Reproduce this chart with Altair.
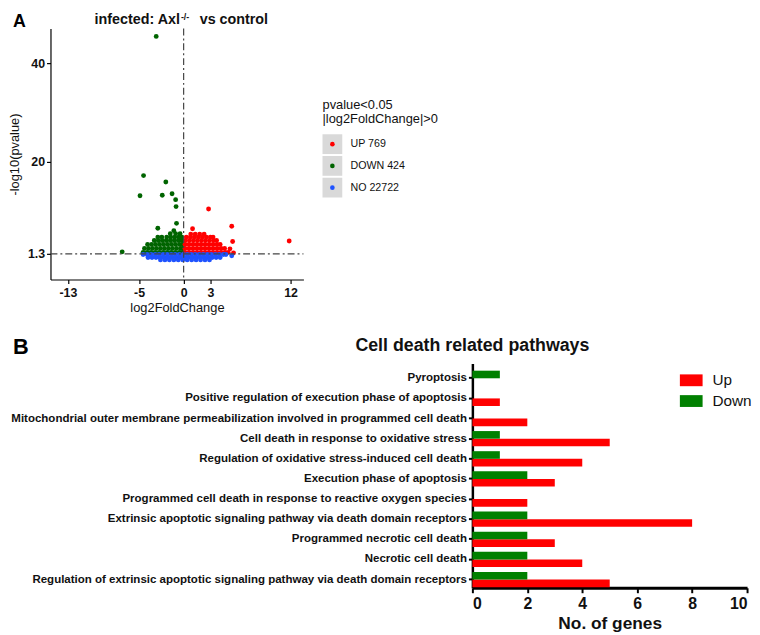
import altair as alt
import pandas as pd

# ---------------- Panel A: volcano plot data ----------------
groups = ["UP", "DOWN", "NO"]
group_colors = ["#ff0000", "#006400", "#1f53ff"]
legend_labels = ["UP 769", "DOWN 424", "NO 22722"]
legend_title = ["pvalue<0.05", "|log2FoldChange|>0"]
x_ticks = [-13, -5, 0, 3, 12]
y_ticks = [1.3, 20, 40]
x_domain = [-14.95, 13.45]
y_domain = [-3.93, 47.1]
fc_cut = [0]
p_cut = [1.3]
title_a = ["infected: Axl", "-/-", "vs control"]

down_x = [
    -4.55, -4.1, -3.65, -3.2, -2.75, -2.3, -1.85, -1.4, -0.95, -0.5, -0.15,
    -4.4, -3.95, -3.5, -3.05, -2.6, -2.15, -1.7, -1.25, -0.8, -0.35, -0.1,
    -4.05, -3.6, -3.15, -2.7, -2.25, -1.8, -1.35, -0.9, -0.45, -0.1,
    -3.3, -2.85, -2.4, -1.95, -1.5, -1.05, -0.6, -0.2,
    -2.9, -2.45, -1.9, -1.45, -1.0, -0.55, -0.2,
    -1.5, -0.9, -0.4,
    -3.08, -4.5, -2.0, -4.9, -2.4, -1.3, -0.9, -0.85, -0.8, -2.9, -1.1, -6.9,
]
down_y = [
    1.6, 1.6, 1.6, 1.6, 1.6, 1.6, 1.6, 1.6, 1.6, 1.6, 1.6,
    2.4, 2.4, 2.4, 2.4, 2.4, 2.4, 2.4, 2.4, 2.4, 2.4, 2.4,
    3.2, 3.2, 3.2, 3.2, 3.2, 3.2, 3.2, 3.2, 3.2, 3.2,
    4.0, 4.0, 4.0, 4.0, 4.0, 4.0, 4.0, 4.0,
    4.7, 4.7, 4.7, 4.7, 4.7, 4.7, 4.7,
    5.4, 5.4, 5.4,
    45.5, 17.2, 15.9, 13.1, 13.2, 13.5, 12.3, 10.9, 7.5, 6.5, 6.0, 1.7,
]
up_x = [
    0.15, 0.6, 1.05, 1.5, 1.95, 2.4, 2.85, 3.3, 3.75, 4.2, 4.65, 5.0,
    0.15, 0.6, 1.05, 1.5, 1.95, 2.4, 2.85, 3.3, 3.75, 4.2, 4.6,
    0.15, 0.6, 1.05, 1.5, 1.95, 2.4, 2.85, 3.3, 3.75, 4.1,
    0.2, 0.65, 1.1, 1.55, 2.0, 2.45, 2.9, 3.35, 3.7,
    0.3, 0.75, 1.2, 1.65, 2.1, 2.55, 3.0, 3.3,
    0.8, 1.3, 1.8, 2.3,
    2.8, 1.0, 5.4, 11.85, 5.5, 5.6, 5.2,
]
up_y = [
    1.6, 1.6, 1.6, 1.6, 1.6, 1.6, 1.6, 1.6, 1.6, 1.6, 1.6, 1.6,
    2.4, 2.4, 2.4, 2.4, 2.4, 2.4, 2.4, 2.4, 2.4, 2.4, 2.4,
    3.2, 3.2, 3.2, 3.2, 3.2, 3.2, 3.2, 3.2, 3.2, 3.2,
    4.0, 4.0, 4.0, 4.0, 4.0, 4.0, 4.0, 4.0, 4.0,
    4.7, 4.7, 4.7, 4.7, 4.7, 4.7, 4.7, 4.7,
    5.3, 5.3, 5.3, 5.3,
    10.4, 6.4, 6.9, 3.9, 3.8, 1.5, 2.3,
]
no_x = [
    -4.55, -4.1, -3.65, -3.2, -2.75, -2.3, -1.85, -1.4, -0.95, -0.5, -0.05,
    0.4, 0.85, 1.3, 1.75, 2.2, 2.65, 3.1, 3.55, 4.0, 4.45, 4.75,
    -4.0, -3.55, -3.1, -2.65, -2.2, -1.75, -1.3, -0.85, -0.4, 0.05,
    0.5, 0.95, 1.4, 1.85, 2.3, 2.75, 3.2, 3.65, 4.1,
    -2.6, -2.1, -1.6, -1.1, -0.6, -0.1, 0.4, 0.9, 1.4, 1.9, 2.4, 2.9,
    5.4,
]
no_y = [
    1.15, 1.15, 1.15, 1.15, 1.15, 1.15, 1.15, 1.15, 1.15, 1.15, 1.15,
    1.15, 1.15, 1.15, 1.15, 1.15, 1.15, 1.15, 1.15, 1.15, 1.15, 1.15,
    0.55, 0.55, 0.55, 0.55, 0.55, 0.55, 0.55, 0.55, 0.55, 0.55,
    0.55, 0.55, 0.55, 0.55, 0.55, 0.55, 0.55, 0.55, 0.55,
    0.05, 0.05, 0.05, 0.05, 0.05, 0.05, 0.05, 0.05, 0.05, 0.05, 0.05, 0.05,
    0.9,
]

# ---------------- Panel B: bar chart data ----------------
pathways = [
    "Pyroptosis",
    "Positive regulation of execution phase of apoptosis",
    "Mitochondrial outer membrane permeabilization involved in programmed cell death",
    "Cell death in response to oxidative stress",
    "Regulation of oxidative stress-induced cell death",
    "Execution phase of apoptosis",
    "Programmed cell death in response to reactive oxygen species",
    "Extrinsic apoptotic signaling pathway via death domain receptors",
    "Programmed necrotic cell death",
    "Necrotic cell death",
    "Regulation of extrinsic apoptotic signaling pathway via death domain receptors",
]
up_counts = [0, 1, 2, 5, 4, 3, 2, 8, 3, 4, 5]
down_counts = [1, 0, 0, 1, 1, 2, 0, 2, 2, 2, 2]
b_series = ["Up", "Down"]
b_colors = ["#ff0000", "#008000"]
b_ticks = [0, 2, 4, 6, 8, 10]
title_b = "Cell death related pathways"

FONT = "Liberation Sans"

# Panel A is drawn to the left of the shared column origin (which sits on panel B's y axis)
OX = -427          # left edge of volcano plot relative to that origin
AW, AH = 256, 254  # volcano plot size
TOP = -16          # top of the panel-A title line (relative to the plot top)

# ---------------- Panel A ----------------
vdf = pd.concat(
    [
        pd.DataFrame({"lfc": down_x, "nlp": down_y, "group": "DOWN"}),
        pd.DataFrame({"lfc": up_x, "nlp": up_y, "group": "UP"}),
        pd.DataFrame({"lfc": no_x, "nlp": no_y, "group": "NO"}),
    ],
    ignore_index=True,
)

color_a = alt.Scale(domain=groups, range=group_colors)
x_scale_a = alt.Scale(domain=x_domain, range=[OX, OX + AW], nice=False, zero=False)
y_scale_a = alt.Scale(domain=y_domain, nice=False, zero=False)
axis_common = dict(grid=False, labelFontSize=12.5, labelFontWeight="bold", titleFontSize=13,
                   titleFontWeight="normal", tickSize=4, domainWidth=1.2, tickWidth=1.2,
                   labelColor="#111", titleColor="#111", labelFont=FONT, titleFont=FONT)
x_axis_a = alt.Axis(values=x_ticks, labelExpr="'' + datum.value", title="log2FoldChange",
                    labelPadding=3, titlePadding=3, **axis_common)
y_axis_a = alt.Axis(values=y_ticks, labelExpr="'' + datum.value", title="-log10(pvalue)",
                    labelPadding=2, titlePadding=6, offset=-OX, **axis_common)

pts = alt.Chart(vdf).mark_circle(size=24, opacity=1).encode(
    x=alt.X("lfc:Q", scale=x_scale_a, axis=x_axis_a),
    y=alt.Y("nlp:Q", scale=y_scale_a, axis=y_axis_a),
    color=alt.Color("group:N", scale=color_a, legend=None),
)
vline = alt.Chart(pd.DataFrame({"lfc": fc_cut})).mark_rule(
    color="#444", strokeDash=[7, 3, 2, 3], strokeWidth=1.2
).encode(x=alt.X("lfc:Q", scale=x_scale_a, axis=x_axis_a))
hline = alt.Chart(pd.DataFrame({"nlp": p_cut})).mark_rule(
    color="#444", strokeDash=[7, 3, 2, 3], strokeWidth=1.2
).encode(
    y=alt.Y("nlp:Q", scale=y_scale_a, axis=y_axis_a),
    x=alt.X(datum=x_domain[0], scale=x_scale_a, axis=x_axis_a),
    x2=alt.X2(datum=x_domain[1]),
)
volcano = alt.layer(pts, vline, hline)

legA = pd.DataFrame({"group": groups, "label": legend_labels})
ly = alt.Y("label:N", sort=legend_labels,
           scale=alt.Scale(domain=legend_labels, range=[117, 161], padding=0), axis=None)
leg_box = alt.Chart(legA).mark_square(size=400, color="#d9d9d9", opacity=1).encode(
    x=alt.value(OX + 285.3), y=ly)
leg_dot = alt.Chart(legA).mark_circle(size=22, opacity=1).encode(
    x=alt.value(OX + 285.3), y=ly, color=alt.Color("group:N", scale=color_a, legend=None))
leg_lab = alt.Chart(legA).mark_text(align="left", baseline="middle", fontSize=10.8,
                                    color="#111", font=FONT).encode(
    x=alt.value(OX + 303.6), y=ly, text="label:N")
legend_a = alt.layer(leg_box, leg_dot, leg_lab)

leg_title = alt.Chart(pd.DataFrame({"t": ["\n".join(legend_title)]})).mark_text(
    align="left", baseline="alphabetic", fontSize=13, lineBreak="\n", lineHeight=14,
    color="#111", font=FONT
).encode(x=alt.value(OX + 275.3), y=alt.value(81.5), text="t:N")

tdf = pd.DataFrame({"t": title_a})
t1 = alt.Chart(tdf.iloc[[0]]).mark_text(align="right", baseline="top", fontSize=14.5,
                                        fontWeight="bold", color="#111", font=FONT).encode(
    x=alt.value(OX + 131), y=alt.value(TOP), text="t:N")
t2 = alt.Chart(tdf.iloc[[1]]).mark_text(align="left", baseline="top", fontSize=9,
                                        fontWeight="bold", color="#111", font=FONT).encode(
    x=alt.value(OX + 132), y=alt.value(TOP), text="t:N")
t3 = alt.Chart(tdf.iloc[[2]]).mark_text(align="left", baseline="top", fontSize=14.5,
                                        fontWeight="bold", color="#111", font=FONT).encode(
    x=alt.value(OX + 151), y=alt.value(TOP), text="t:N")
letter_a = alt.Chart(pd.DataFrame({"t": ["A"]})).mark_text(
    align="left", baseline="top", fontSize=18, fontWeight="bold", color="#000", font=FONT
).encode(x=alt.value(OX - 38), y=alt.value(TOP), text="t:N")

panel_a = alt.layer(volcano, legend_a, leg_title, t1, t2, t3, letter_a).resolve_scale(
    x="independent", y="independent"
).properties(width=1, height=AH)

# ---------------- Panel B ----------------
bdf = pd.DataFrame({
    "pathway": pathways + pathways,
    "dir": ["Up"] * len(pathways) + ["Down"] * len(pathways),
    "n": up_counts + down_counts,
})
color_b = alt.Scale(domain=b_series, range=b_colors)

bars = alt.Chart(bdf).mark_bar().encode(
    y=alt.Y("pathway:N", sort=pathways,
            scale=alt.Scale(domain=pathways, paddingInner=0.244, paddingOuter=0.194, align=0.92),
            axis=alt.Axis(title=None, labelFontSize=11.65, labelFontWeight="bold", labelLimit=0,
                          labelPadding=2, tickSize=4, tickWidth=2, domainWidth=2.5,
                          labelColor="#111", labelFont=FONT)),
    yOffset=alt.YOffset("dir:N", scale=alt.Scale(domain=["Down", "Up"])),
    x=alt.X("n:Q", scale=alt.Scale(domain=[0, 10], nice=False),
            axis=alt.Axis(values=b_ticks, title="No. of genes", grid=False, labelFontSize=16,
                          labelFontWeight="bold", titleFontSize=17.5, titleFontWeight="bold",
                          tickSize=5, tickWidth=2, domainWidth=3, labelPadding=3, titlePadding=3,
                          labelColor="#111", titleColor="#111", labelFont=FONT, titleFont=FONT)),
    color=alt.Color("dir:N", scale=color_b, legend=None),
)

legB = pd.DataFrame({"dir": b_series})
lyB = alt.Y("dir:N", sort=b_series, scale=alt.Scale(domain=b_series, range=[17, 38], padding=0),
            axis=None)
leg_boxB = alt.Chart(legB).mark_point(shape="M-1,-0.52H1V0.52H-1Z", filled=True, size=529,
                                      opacity=1, strokeWidth=0).encode(
    x=alt.value(221.5), y=lyB, color=alt.Color("dir:N", scale=color_b, legend=None))
leg_labB = alt.Chart(legB).mark_text(align="left", baseline="middle", fontSize=15.5,
                                     color="#111", font=FONT).encode(
    x=alt.value(243), y=lyB, text="dir:N")
legend_b = alt.layer(leg_boxB, leg_labB)

ttl_b = alt.Chart(pd.DataFrame({"t": [title_b]})).mark_text(
    align="center", baseline="alphabetic", fontSize=18, fontWeight="bold", color="#111", font=FONT
).encode(x=alt.value(0), y=alt.value(-12.3), text="t:N")
letter_b = alt.Chart(pd.DataFrame({"t": ["B"]})).mark_text(
    align="left", baseline="alphabetic", fontSize=22, fontWeight="bold", color="#000", font=FONT
).encode(x=alt.value(-465), y=alt.value(-10), text="t:N")

panel_b = alt.layer(bars, legend_b, ttl_b, letter_b).resolve_scale(
    y="independent"
).properties(width=278, height=227)

chart = alt.vconcat(panel_a, panel_b, spacing=21).resolve_scale(
    color="independent"
).properties(padding=0).configure(font=FONT).configure_view(stroke=None).configure_axis(
    domainColor="black", tickColor="black"
)

chart.save("out.html", embed_options={"renderer": "svg", "actions": False})
